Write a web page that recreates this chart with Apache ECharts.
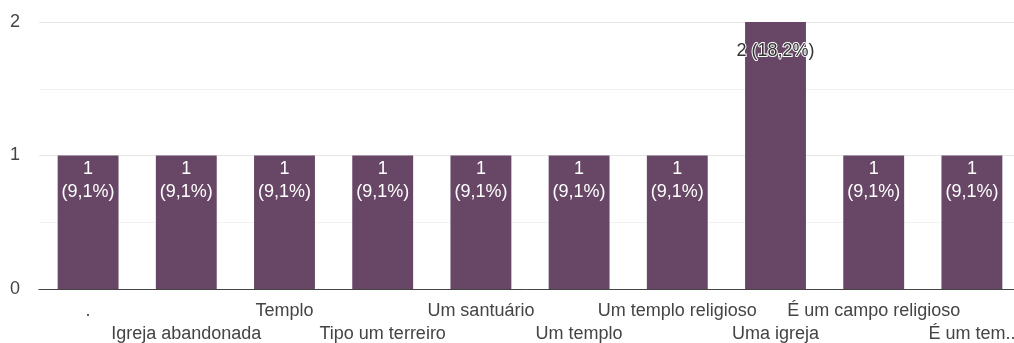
<!DOCTYPE html>
<html>
<head>
<meta charset="utf-8">
<script src="https://cdn.jsdelivr.net/npm/echarts@6/dist/echarts.min.js"></script>
<style>
  html, body { margin: 0; padding: 0; background: #fff; overflow: hidden; }
  #chart { width: 1014px; height: 343px; }
</style>
</head>
<body>
<div id="chart"></div>
<script>
// Answers and how many people gave each one
const categories = [
  '.', 'Igreja abandonada', 'Templo', 'Tipo um terreiro', 'Um santuário',
  'Um templo', 'Um templo religioso', 'Uma igreja', 'É um campo religioso', 'É um tem..'
];
const counts = [1, 1, 1, 1, 1, 1, 1, 2, 1, 1];
const yTicks = [0, 1, 2];

const total = counts.reduce((a, b) => a + b, 0);
const pct = v => (Math.round(v / total * 1000) / 10).toFixed(1).replace('.', ',');

const FONT = 'Arial, "Liberation Sans", sans-serif';
const BAR = '#674765';
const FS = 18;

const data = counts.map(v => {
  const item = { value: v };
  if (v === Math.max(...counts)) {
    // tallest bar: single-line label with halo
    item.label = {
      formatter: p => p.value + ' (' + pct(p.value) + '%)',
      color: '#333',
      textBorderColor: '#fff',
      textBorderWidth: 2,
      distance: 18
    };
  }
  return item;
});

const chart = echarts.init(document.getElementById('chart'));
chart.setOption({
  animation: false,
  grid: {
    left: 39, top: 22, width: 982, height: 267,
    containLabel: false, outerBoundsMode: 'none'
  },
  xAxis: {
    type: 'category',
    data: categories,
    axisLine: { lineStyle: { color: '#444', width: 1 } },
    axisTick: { show: false },
    axisLabel: {
      interval: 0,
      margin: 11,
      fontFamily: FONT,
      fontSize: FS,
      color: '#444',
      lineHeight: 23,
      formatter: (v, i) => (i % 2 === 1 ? '\n' + v : v)
    }
  },
  yAxis: {
    type: 'value',
    min: yTicks[0],
    max: yTicks[yTicks.length - 1],
    interval: 1,
    axisLine: { show: false },
    axisTick: { show: false },
    axisLabel: { fontFamily: FONT, fontSize: FS, color: '#444', margin: 19 },
    splitLine: { lineStyle: { color: '#e6e6e6' } },
    minorTick: { show: false, splitNumber: 2 },
    minorSplitLine: { show: true, lineStyle: { color: '#f2f2f2' } }
  },
  series: [{
    type: 'bar',
    data: data,
    barCategoryGap: '38%',
    itemStyle: { color: BAR },
    label: {
      show: true,
      position: 'insideTop',
      distance: 2,
      fontFamily: FONT,
      fontSize: FS,
      lineHeight: 23,
      color: '#fff',
      align: 'center',
      formatter: p => p.value + '\n(' + pct(p.value) + '%)'
    }
  }]
});
</script>
</body>
</html>
